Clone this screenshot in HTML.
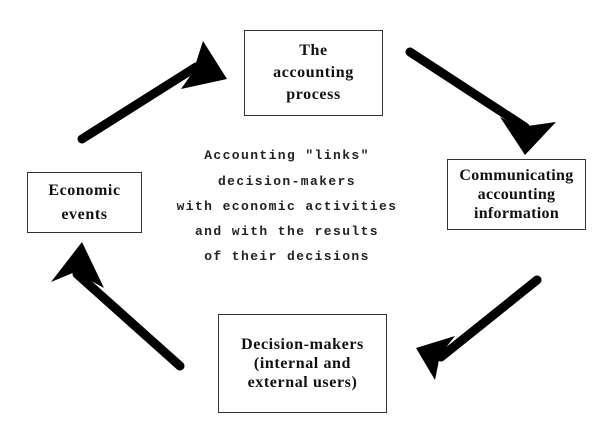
<!DOCTYPE html>
<html><head><meta charset="utf-8"><style>
html,body{margin:0;padding:0;background:#fff;}
body{width:613px;height:429px;position:relative;overflow:hidden;font-family:"Liberation Serif",serif;}
.box{position:absolute;border:1.5px solid #333;box-sizing:border-box;display:flex;align-items:center;justify-content:center;text-align:center;font-weight:bold;font-size:16px;letter-spacing:0.6px;line-height:22px;color:#111;white-space:nowrap;}
.mid{position:absolute;left:147px;width:280px;text-align:center;font-size:13px;letter-spacing:1.4px;color:#222;font-family:"Liberation Mono",monospace;font-weight:bold;}
</style></head><body>
<svg width="613" height="429" style="position:absolute;left:0;top:0">
<g stroke="#000" stroke-width="9" stroke-linecap="round" fill="none">
<line x1="82" y1="139" x2="196" y2="67"/>
<line x1="410" y1="52" x2="525" y2="127"/>
<line x1="537" y1="280" x2="441" y2="357"/>
<line x1="180" y1="366" x2="77" y2="274"/>
</g>
<g fill="#000">
<polygon points="227,79 203,41 193,72 181,89"/>
<polygon points="525,155 500,117 520,127 556,122"/>
<polygon points="416,348 455,336 440,355 435,380"/>
<polygon points="82,242 51,282 75,272 104,288"/>
</g>
</svg>
<div class="box" style="left:244px;top:30px;width:139px;height:86px;">The<br>accounting<br>process</div>
<div class="box" style="left:447px;top:159px;width:139px;height:71px;line-height:19px;letter-spacing:0.3px;">Communicating<br>accounting<br>information</div>
<div class="box" style="left:27px;top:172px;width:115px;height:61px;line-height:24px;">Economic<br>events</div>
<div class="box" style="left:218px;top:314px;width:169px;height:99px;line-height:19px;">Decision-makers<br>(internal and<br>external users)</div>
<div class="mid" style="top:148px">Accounting "links"</div>
<div class="mid" style="top:174px">decision-makers</div>
<div class="mid" style="top:199px">with economic activities</div>
<div class="mid" style="top:224px">and with the results</div>
<div class="mid" style="top:249px">of their decisions</div>
</body></html>
